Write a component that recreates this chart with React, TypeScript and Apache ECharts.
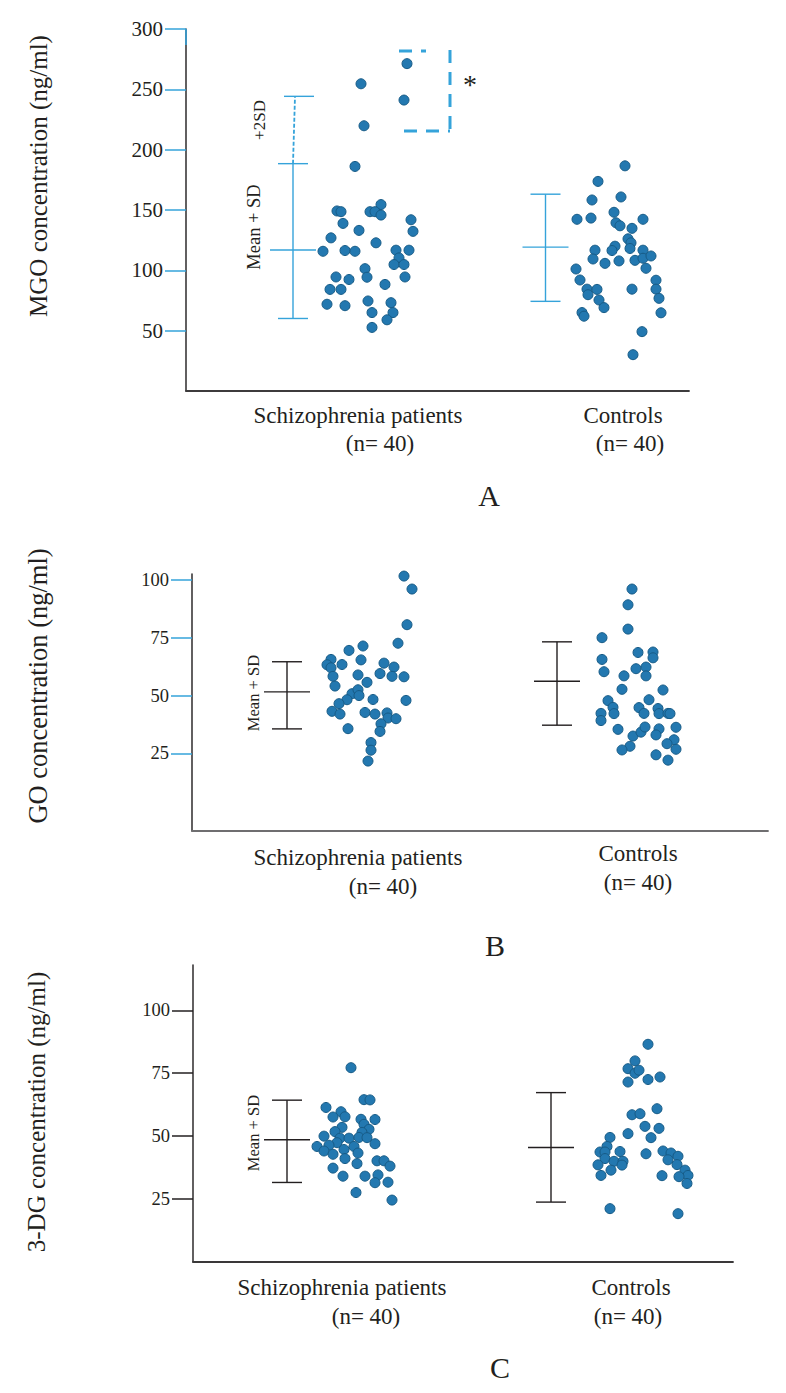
import React, { useEffect, useRef } from 'react';
import * as echarts from 'echarts';

const FONT = 'Liberation Serif';
const TEXT = '#231f20';
const BLUE = '#35a3da';
const DOT = '#2378b0';
const DOT_EDGE = '#175b86';

const groups = ['Schizophrenia patients', 'Controls'];
const groupN = ['(n= 40)', '(n= 40)'];
const panelLetters = ['A', 'B', 'C'];
const yTitles = ['MGO concentration (ng/ml)', 'GO concentration (ng/ml)', '3-DG concentration (ng/ml)'];
const ticksA = [50, 100, 150, 200, 250, 300];
const ticksBC = [25, 50, 75, 100];

// Panel A – MGO (x = horizontal jitter position, y = concentration)
const mgoPatientsX = [175, 178, 169, 221, 218, 151, 155, 157, 145, 137, 159, 169, 173, 195, 184, 189, 195, 190, 225, 227, 210, 223, 213, 208, 218, 179, 181, 150, 163, 219, 199, 144, 155, 141, 159, 182, 205, 186, 207, 201, 186];
const mgoPatientsY = [254.6, 219.8, 186.1, 271.3, 241.1, 149.2, 148.6, 138.9, 126.9, 115.8, 116.4, 115.8, 133.1, 154.5, 148.6, 148.6, 145.8, 122.8, 141.9, 132.3, 116.7, 116.7, 110.3, 104.8, 104.8, 101.4, 94.3, 94.5, 92.4, 94.5, 88.3, 84.2, 84.2, 71.9, 70.7, 74.6, 73.2, 65.0, 65.0, 59.0, 52.7];
const mgoControlsX = [439, 412, 406, 435, 391, 405, 428, 457, 430, 434, 446, 442, 445, 444, 429, 426, 409, 407, 419, 433, 449, 457, 457, 465, 460, 390, 394, 401, 402, 411, 413, 418, 396, 398, 446, 470, 470, 473, 475, 456, 447];
const mgoControlsY = [186.6, 173.7, 158.3, 160.8, 142.3, 143.3, 148.1, 142.3, 139.4, 136.9, 134.8, 126.1, 122.8, 118.1, 120.0, 116.4, 116.7, 109.4, 105.8, 107.8, 108.3, 116.7, 110.0, 111.9, 101.7, 101.1, 92.0, 84.4, 79.8, 84.2, 75.4, 69.1, 65.0, 62.0, 84.4, 91.8, 84.4, 76.8, 64.8, 49.2, 30.1];
// [x, mean - SD, mean, mean + SD]
const mgoBars = [[107, 60.1, 116.9, 188.4], [359.5, 74.3, 119.2, 163.1]];
// [x, mean + SD, mean + 2SD]
const mgoPlus2SD = [[107, 188.4, 244.2]];

// Panel B – GO
const goPatientsX = [212, 220, 215, 206, 171, 157, 169, 139, 135, 139, 150, 141, 143, 166, 175, 188, 192, 202, 200, 212, 214, 160, 166, 167, 155, 147, 140, 148, 181, 173, 183, 195, 196, 204, 189, 188, 156, 179, 179, 176];
const goPatientsY = [101.6, 96.0, 80.6, 72.6, 71.4, 69.5, 65.4, 65.6, 63.3, 62.0, 63.4, 58.3, 54.1, 58.9, 55.7, 59.5, 64.0, 62.3, 58.3, 58.1, 47.9, 50.8, 52.5, 50.0, 48.2, 46.5, 43.2, 42.0, 48.3, 42.7, 42.0, 42.5, 40.3, 40.0, 37.8, 34.5, 35.7, 29.7, 26.4, 21.7];
const goControlsX = [440, 436, 436, 410, 446, 461, 461, 410, 412, 444, 454, 454, 432, 430, 471, 416, 421, 422, 409, 409, 447, 452, 457, 466, 467, 476, 478, 426, 441, 449, 453, 467, 464, 484, 482, 475, 484, 438, 430, 464, 476];
const goControlsY = [96.0, 89.2, 78.7, 75.0, 68.6, 68.8, 66.3, 65.6, 60.3, 61.6, 62.3, 58.5, 58.5, 52.7, 52.4, 47.8, 44.9, 42.2, 42.3, 39.2, 44.8, 42.3, 48.2, 44.4, 42.2, 42.3, 42.2, 35.4, 32.5, 34.2, 36.4, 35.6, 33.0, 36.3, 30.9, 29.2, 26.8, 28.1, 26.5, 24.4, 22.1];
const goBars = [[95, 35.6, 51.6, 64.6], [365, 37.2, 56.2, 73.2]];

// Panel C – 3-DG
const dgPatientsX = [158, 171, 177, 133, 148, 140, 152, 168, 182, 171, 149, 176, 142, 169, 131, 147, 156, 166, 174, 144, 136, 124, 161, 182, 151, 131, 165, 140, 152, 184, 191, 197, 164, 140, 185, 150, 172, 182, 195, 163, 199];
const dgPatientsY = [77.2, 64.5, 64.4, 61.4, 59.7, 57.6, 57.7, 56.7, 56.6, 54.7, 53.5, 52.7, 51.8, 51.5, 50.0, 49.2, 49.2, 49.5, 49.4, 47.4, 46.4, 45.9, 45.9, 47.0, 44.7, 44.1, 43.3, 42.8, 41.1, 40.2, 40.2, 38.1, 39.1, 37.3, 34.6, 34.1, 34.1, 31.5, 31.7, 27.6, 24.6];
const dgControlsX = [455, 442, 435, 442, 446, 435, 455, 467, 464, 439, 447, 452, 466, 458, 435, 417, 414, 407, 412, 412, 427, 421, 430, 429, 405, 418, 408, 453, 470, 478, 485, 475, 484, 492, 495, 469, 486, 494, 417, 485];
const dgControlsY = [86.5, 79.9, 76.8, 75.0, 76.2, 71.5, 72.5, 73.5, 60.9, 58.5, 58.9, 53.9, 53.1, 49.4, 51.0, 49.5, 45.9, 43.7, 43.7, 41.1, 43.9, 40.0, 40.0, 38.5, 38.6, 36.5, 34.4, 43.0, 44.1, 43.3, 42.0, 40.6, 38.7, 36.5, 34.4, 34.3, 33.9, 31.2, 21.2, 19.2];
const dgBars = [[94, 31.6, 48.6, 64.3], [358, 23.8, 45.5, 67.3]];

const zip = (xs: number[], ys: number[]) => xs.map((x, i) => [x, ys[i]]);

const barRender = (color: string) => (params: any, api: any) => {
  const x = api.value(0);
  const lo = api.coord([x, api.value(1)]);
  const mid = api.coord([x, api.value(2)]);
  const hi = api.coord([x, api.value(3)]);
  const st = { stroke: color, lineWidth: 1.4 };
  const h = (p: number[], w: number) => ({ type: 'line', shape: { x1: p[0] - w, y1: p[1], x2: p[0] + w, y2: p[1] }, style: st });
  return {
    type: 'group',
    children: [
      { type: 'line', shape: { x1: lo[0], y1: lo[1], x2: hi[0], y2: hi[1] }, style: st },
      h(hi, 15),
      h(mid, 23),
      h(lo, 15),
    ],
  };
};

const sdRender = (params: any, api: any) => {
  const x = api.value(0);
  const lo = api.coord([x, api.value(1)]);
  const hi = api.coord([x, api.value(2)]);
  return {
    type: 'group',
    children: [
      { type: 'line', shape: { x1: lo[0], y1: lo[1], x2: hi[0] + 2, y2: hi[1] }, style: { stroke: BLUE, lineWidth: 1.8, lineDash: [4, 2] } },
      { type: 'line', shape: { x1: hi[0] - 9, y1: hi[1], x2: hi[0] + 21, y2: hi[1] }, style: { stroke: BLUE, lineWidth: 1.4 } },
    ],
  };
};

const grids = [
  { left: 186, top: 29, width: 503, height: 362 },
  { left: 192, top: 574, width: 576, height: 257 },
  { left: 193, top: 965, width: 540, height: 297 },
];
const yRanges = [[0, 300], [-8.5, 102.5], [0, 118]];
const yTicks = [ticksA, ticksBC, ticksBC];
const tickColors = [BLUE, BLUE, '#231f20'];
const xLineColors = ['#3d3b3c', '#6f6e70', '#3a3839'];
const labelSizes = [21, 18.5, 18.5];

function text(t: string, x: number, y: number, size: number, rotate = false): any {
  return {
    type: 'text',
    x,
    y,
    rotation: rotate ? Math.PI / 2 : 0,
    silent: true,
    style: {
      text: t,
      fontFamily: FONT,
      fontSize: size,
      fill: TEXT,
      textAlign: 'center',
      textVerticalAlign: 'middle',
      align: 'center',
      verticalAlign: 'middle',
    },
  };
}

function seg(x1: number, y1: number, x2: number, y2: number, dash: number[] | null, width: number): any {
  return {
    type: 'line',
    silent: true,
    z: 10,
    shape: { x1, y1, x2, y2 },
    style: { stroke: BLUE, lineWidth: width, lineDash: dash || undefined },
  };
}

export default function App() {
  const ref = useRef<HTMLDivElement>(null);
  useEffect(() => {
    document.body.style.margin = '0';
    const chart = echarts.init(ref.current!, undefined, { renderer: 'svg' });

    const scatter = (gi: number, data: number[][]) => ({
      type: 'scatter',
      xAxisIndex: gi,
      yAxisIndex: gi,
      data,
      symbolSize: 10,
      itemStyle: { color: DOT, borderColor: DOT_EDGE, borderWidth: 1, opacity: 1 },
      z: 3,
    });
    const bars = (gi: number, data: number[][], color: string) => ({
      type: 'custom',
      xAxisIndex: gi,
      yAxisIndex: gi,
      data,
      encode: { x: 0, y: [1, 2, 3] },
      renderItem: barRender(color),
      z: 2,
    });

    const catPos = [
      [[358, 415, 380, 443], [623, 415, 630, 443]],
      [[358, 857, 383, 886], [638, 853, 638, 882]],
      [[342, 1287, 366, 1316], [631, 1287, 628, 1316]],
    ];
    const letterPos = [[489, 495], [495, 945], [500, 1367]];
    const titlePos = [[38, 176], [38, 686], [36, 1112]];
    const titleSizes = [25, 26.5, 25];

    const graphics: any[] = [];
    for (let p = 0; p < 3; p++) {
      graphics.push(text(yTitles[p], titlePos[p][0], titlePos[p][1], titleSizes[p], true));
      graphics.push(text(panelLetters[p], letterPos[p][0], letterPos[p][1], 30));
      for (let g = 0; g < 2; g++) {
        const c = catPos[p][g];
        graphics.push(text(groups[g], c[0], c[1], 23));
        graphics.push(text(groupN[g], c[2], c[3], 23));
      }
    }
    graphics.push(text('Mean + SD', 254, 227, 18.5, true));
    graphics.push(text('+2SD', 259, 120, 17, true));
    graphics.push(text('Mean + SD', 253, 693, 16.6, true));
    graphics.push(text('Mean + SD', 253, 1133, 16.6, true));
    graphics.push(text('*', 470, 84, 28));
    graphics.push(seg(399, 51, 426, 51, [13, 9], 3));
    graphics.push(seg(450, 50, 450, 131, [13, 9], 3));
    graphics.push(seg(404, 131, 450, 131, [13, 9], 3));
    graphics.push(seg(186, 29, 186, 45, null, 1.6));

    chart.setOption({
      animation: false,
      backgroundColor: '#ffffff',
      grid: grids.map((g) => ({ ...g, containLabel: false })),
      xAxis: grids.map((g, i) => ({
        gridIndex: i,
        type: 'value',
        min: 0,
        max: g.width,
        axisLine: { show: true, onZero: false, lineStyle: { color: xLineColors[i], width: 1.8 } },
        axisTick: { show: false },
        axisLabel: { show: false },
        splitLine: { show: false },
      })),
      yAxis: grids.map((g, i) => ({
        gridIndex: i,
        type: 'value',
        min: yRanges[i][0],
        max: yRanges[i][1],
        axisLine: { show: true, onZero: false, lineStyle: { color: '#3a3839', width: 1.6 } },
        axisTick: { show: true, length: 21, customValues: yTicks[i], lineStyle: { color: tickColors[i], width: 1.5 } },
        axisLabel: {
          show: true,
          customValues: yTicks[i],
          margin: 23,
          fontFamily: FONT,
          fontSize: labelSizes[i],
          color: TEXT,
        },
        splitLine: { show: false },
      })),
      series: [
        scatter(0, zip(mgoPatientsX, mgoPatientsY)),
        scatter(0, zip(mgoControlsX, mgoControlsY)),
        bars(0, mgoBars, BLUE),
        {
          type: 'custom',
          xAxisIndex: 0,
          yAxisIndex: 0,
          data: mgoPlus2SD,
          encode: { x: 0, y: [1, 2] },
          renderItem: sdRender,
          z: 2,
        },
        scatter(1, zip(goPatientsX, goPatientsY)),
        scatter(1, zip(goControlsX, goControlsY)),
        bars(1, goBars, '#231f20'),
        scatter(2, zip(dgPatientsX, dgPatientsY)),
        scatter(2, zip(dgControlsX, dgControlsY)),
        bars(2, dgBars, '#231f20'),
      ],
      graphic: graphics,
    });
    return () => chart.dispose();
  }, []);

  return <div ref={ref} style={{ position: 'absolute', left: 0, top: 0, width: 786, height: 1393 }} />;
}
